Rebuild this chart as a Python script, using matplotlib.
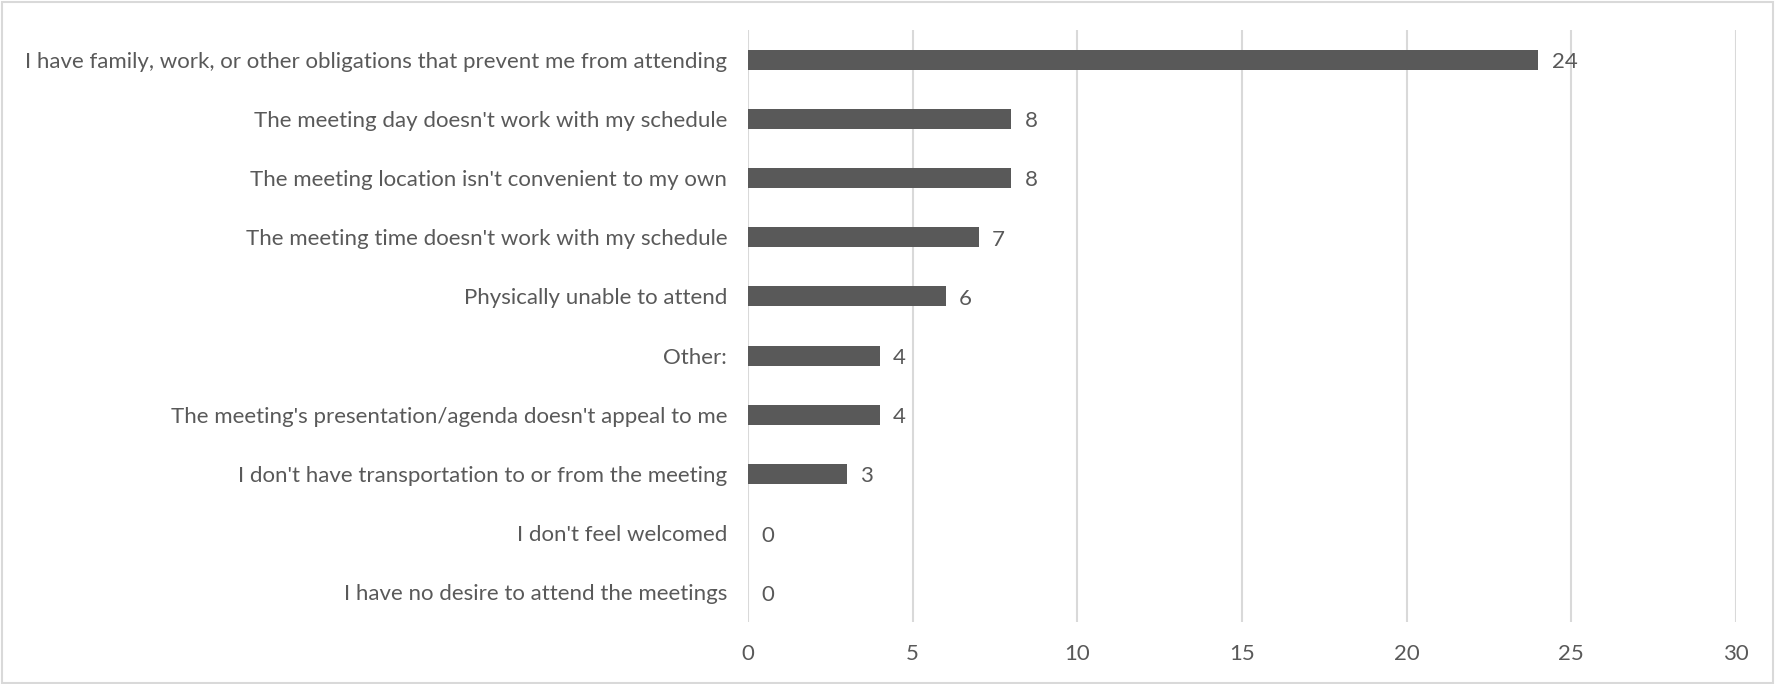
import matplotlib
matplotlib.use("Agg")
import matplotlib.pyplot as plt
from matplotlib.patches import Rectangle

categories = [
    "I have family, work, or other obligations that prevent me from attending",
    "The meeting day doesn't work with my schedule",
    "The meeting location isn't convenient to my own",
    "The meeting time doesn't work with my schedule",
    "Physically unable to attend",
    "Other:",
    "The meeting's presentation/agenda doesn't appeal to me",
    "I don't have transportation to or from the meeting",
    "I don't feel welcomed",
    "I have no desire to attend the meetings",
]
counts = [24, 8, 8, 7, 6, 4, 4, 3, 0, 0]
x_ticks = [0, 5, 10, 15, 20, 25, 30]

text_color = "#595959"
bar_color = "#595959"
grid_color = "#d9d9d9"

plt.rcParams["font.family"] = ["Lato", "DejaVu Sans"]

fig = plt.figure(figsize=(17.77, 6.84), dpi=100)
ax = fig.add_axes([748 / 1777, 1 - 622 / 684, (1736 - 748) / 1777, (622 - 30) / 684])

y = list(range(len(categories)))
ax.barh(y, counts, height=0.34, color=bar_color, linewidth=0, zorder=3)
for yi, v in zip(y, counts):
    ax.text(v + 0.4, yi + 0.04, str(v), va="center", ha="left", fontsize=16, color=text_color, zorder=4)

ax.set_xlim(0, 30)
ax.set_ylim(len(categories) - 0.5, -0.5)
ax.set_xticks(x_ticks)
ax.set_yticks(y)
ax.set_yticklabels(categories)
ax.tick_params(axis="both", length=0, labelsize=16, labelcolor=text_color)
ax.tick_params(axis="x", pad=16)
ax.tick_params(axis="y", pad=15)
ax.grid(axis="x", color=grid_color, linewidth=1.5, zorder=0)
for s in ax.spines.values():
    s.set_visible(False)

# outer frame
fig.patches.append(Rectangle((0.001, 0.002), 0.997, 0.995, transform=fig.transFigure,
                             fill=False, edgecolor="#d9d9d9", linewidth=1.5))

fig.savefig("out.png", dpi=100)
